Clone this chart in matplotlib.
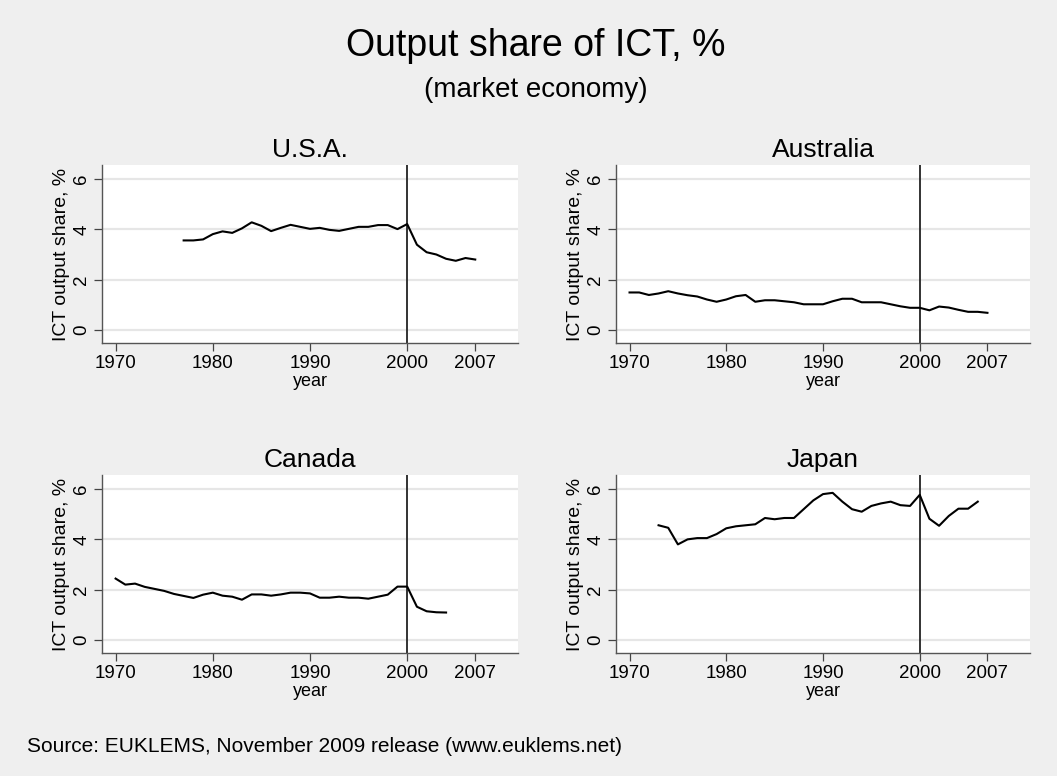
import matplotlib
matplotlib.use("Agg")
from matplotlib import pyplot as plt

plt.rcParams['font.family'] = ['Liberation Sans', 'DejaVu Sans']

# datos
usa_years = list(range(1977, 2008))
usa_vals = [3.56, 3.56, 3.60, 3.81, 3.92, 3.86, 4.04, 4.28, 4.14, 3.93,
            4.06, 4.18, 4.10, 4.02, 4.06, 3.98, 3.94, 4.02, 4.10, 4.10,
            4.17, 4.17, 4.01, 4.21, 3.39, 3.09, 3.00, 2.83, 2.75, 2.86, 2.80]

aus_years = list(range(1970, 2008))
aus_vals = [1.49, 1.49, 1.39, 1.45, 1.54, 1.45, 1.38, 1.33, 1.21, 1.12,
            1.21, 1.34, 1.39, 1.12, 1.18, 1.18, 1.14, 1.10, 1.02, 1.02,
            1.02, 1.14, 1.24, 1.24, 1.10, 1.10, 1.10, 1.02, 0.94, 0.88,
            0.88, 0.78, 0.93, 0.89, 0.80, 0.72, 0.72, 0.68]

can_years = list(range(1970, 2005))
can_vals = [2.44, 2.20, 2.24, 2.11, 2.03, 1.95, 1.83, 1.75, 1.67, 1.80,
            1.88, 1.76, 1.72, 1.60, 1.81, 1.81, 1.76, 1.81, 1.88, 1.88,
            1.85, 1.68, 1.68, 1.72, 1.68, 1.68, 1.64, 1.72, 1.80, 2.12,
            2.12, 1.32, 1.14, 1.10, 1.09]

jpn_years = list(range(1973, 2007))
jpn_vals = [4.56, 4.46, 3.80, 4.00, 4.05, 4.05, 4.21, 4.44, 4.52, 4.56,
            4.60, 4.85, 4.80, 4.85, 4.85, 5.20, 5.55, 5.80, 5.85, 5.50,
            5.20, 5.10, 5.33, 5.43, 5.50, 5.36, 5.33, 5.77, 4.82, 4.54,
            4.93, 5.22, 5.22, 5.50]

paneles = [("U.S.A.", usa_years, usa_vals),
           ("Australia", aus_years, aus_vals),
           ("Canada", can_years, can_vals),
           ("Japan", jpn_years, jpn_vals)]

xticks = [1970, 1980, 1990, 2000, 2007]
yticks = [0, 2, 4, 6]

W, H = 1057, 776
fondo = "#efefef"
fig = plt.figure(figsize=(W / 100, H / 100), dpi=100, facecolor=fondo)

# posiciones en pixeles (izq, arriba, der, abajo)
cajas = [(102, 165, 518, 343),
         (616, 165, 1030, 343),
         (102, 475, 518, 653),
         (616, 475, 1030, 653)]

for (titulo, xs, ys), (l, t, r, b) in zip(paneles, cajas):
    ax = fig.add_axes([l / W, (H - b) / H, (r - l) / W, (b - t) / H])
    ax.set_facecolor("white")
    for y in yticks:
        ax.axhline(y, color="#e6e6e6", lw=1.6, zorder=1)
    ax.plot(xs, ys, color="black", lw=1.5, zorder=3)
    ax.axvline(2000, color="#333333", lw=1.4, zorder=2)
    ax.set_xlim(1968.6, 2011.4)
    ax.set_ylim(-0.52, 6.56)
    ax.set_xticks(xticks)
    ax.set_yticks(yticks)
    ax.set_yticklabels([str(v) for v in yticks], rotation=90, va="center")
    ax.tick_params(labelsize=13.5, length=5.5, width=0.9, color="#444444")
    ax.tick_params(axis="x", pad=3.5)
    ax.tick_params(axis="y", pad=3)
    for s in ["top", "right"]:
        ax.spines[s].set_visible(False)
    for s in ["left", "bottom"]:
        ax.spines[s].set_color("#555555")
        ax.spines[s].set_linewidth(1.0)
    ax.set_xlabel("year", fontsize=13, labelpad=0)
    ax.set_ylabel("ICT output share, %", fontsize=14, labelpad=2)
    ax.set_title(titulo, fontsize=19, pad=5.5)

fig.text(536 / W, 1 - 46 / H, "Output share of ICT, %", ha="center", va="center", fontsize=27)
fig.text(536 / W, 1 - 90 / H, "(market economy)", ha="center", va="center", fontsize=20)
fig.text(27 / W, 1 - 747 / H, "Source: EUKLEMS, November 2009 release (www.euklems.net)",
         ha="left", va="center", fontsize=15)

plt.savefig("out.png", dpi=100, facecolor=fondo)
